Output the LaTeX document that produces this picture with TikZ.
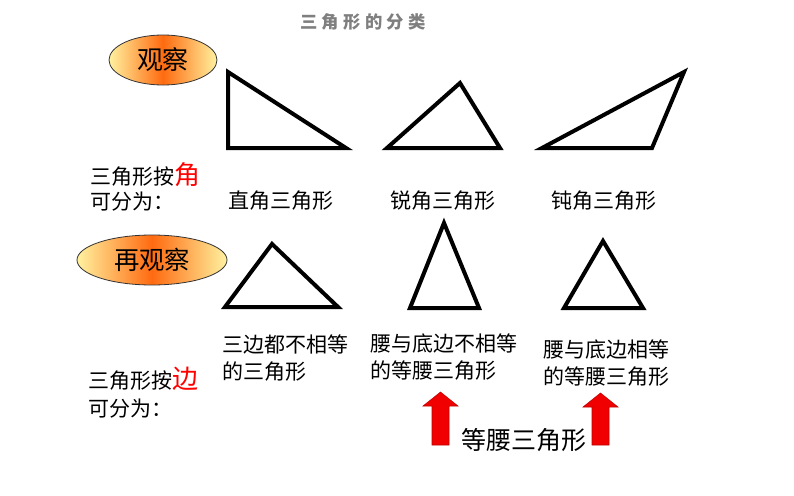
\documentclass[tikz,border=0pt]{standalone}
\usepackage{fontspec}
\setmainfont{Noto Sans CJK SC}
\usetikzlibrary{shapes.geometric}
\definecolor{edgeyel}{HTML}{FFF2A0}
\definecolor{midorg}{HTML}{FF6A10}
\definecolor{titlegray}{HTML}{7F7F7F}
\definecolor{arrred}{HTML}{F00000}
\tikzset{
  tri/.style={line width=3pt, line join=miter, draw=black},
  bubble/.style={ellipse, draw=black!80, line width=0.6pt, left color=edgeyel, right color=edgeyel, middle color=midorg, inner sep=0pt},
  txt/.style={inner sep=0pt, font=\fontsize{15.75}{20.25}\selectfont},
  upa/.style={fill=arrred, draw=arrred!80!black, line width=0.4pt}
}
\begin{document}
\begin{tikzpicture}[x=0.75pt,y=-0.75pt]
\useasboundingbox (0,0) rectangle (794,496);
% title
\node[inner sep=0pt, text=titlegray, font=\fontsize{13}{13}\selectfont\bfseries] (title) at (363,22) {三\hspace{3.2pt}角\hspace{3.2pt}形\hspace{3.2pt}的\hspace{3.2pt}分\hspace{3.2pt}类};
% bubbles
\node[bubble, minimum width=108*0.75pt, minimum height=50*0.75pt, font=\fontsize{19.5}{19.5}\selectfont] (obs) at (163,60) {观察};
\node[bubble, minimum width=150*0.75pt, minimum height=50*0.75pt, font=\fontsize{19}{19}\selectfont] (reobs) at (152,260) {再观察};
% top triangles
\draw[tri] (228,72) -- (228,148) -- (346,148) -- cycle;
\draw[tri] (387,148) -- (460,83) -- (500,148) -- cycle;
\draw[tri] (542,148) -- (684,72) -- (652,148) -- cycle;
% bottom triangles
\draw[tri] (225,307) -- (272,244) -- (338,307) -- cycle;
\draw[tri] (410,308) -- (444,223) -- (479,308) -- cycle;
\draw[tri] (564,308) -- (603,241) -- (643,308) -- cycle;
% angle classification text
\node[txt, anchor=base west] (byangle) at (90,184) {三角形按{\color{red}\fontsize{19.5}{19.5}\selectfont 角}};
\node[txt, anchor=base west] (divA) at (90,209) {可分为：};
\node[txt] (right) at (281,201) {直角三角形};
\node[txt] (acute) at (443,201) {锐角三角形};
\node[txt] (obtuse) at (604,201) {钝角三角形};
% side classification text
\node[txt, anchor=base west] (byside) at (88,388) {三角形按{\color{red}\fontsize{19.5}{19.5}\selectfont 边}};
\node[txt, anchor=base west] (divS) at (88,416) {可分为：};
\node[txt, anchor=west, align=left] (scal) at (222,358) {三边都不相等\\的三角形};
\node[txt, anchor=west, align=left] (iso) at (370,357) {腰与底边不相等\\的等腰三角形};
\node[txt, anchor=west, align=left] (equi) at (543,363) {腰与底边相等\\的等腰三角形};
\node[inner sep=0pt, font=\fontsize{18.75}{18.75}\selectfont] (isoname) at (524,440) {等腰三角形};
% arrows
\foreach \cx/\ty [count=\i] in {440.5/392, 600.5/393}{
  \draw[upa] (\cx,\ty) -- (\cx+17.5,\ty+14) -- (\cx+8.5,\ty+14) -- (\cx+8.5,445) -- (\cx-8.5,445) -- (\cx-8.5,\ty+14) -- (\cx-17.5,\ty+14) -- cycle;
}
\end{tikzpicture}
\end{document}
